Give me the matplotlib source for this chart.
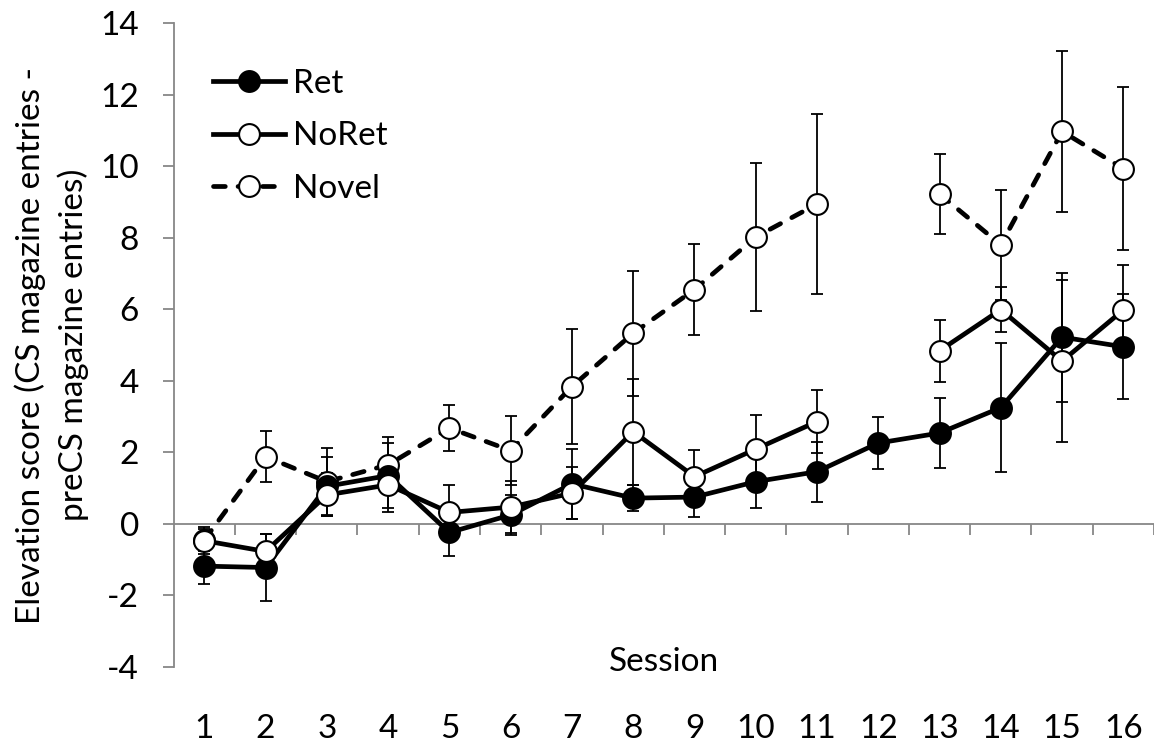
import numpy as np
import matplotlib.pyplot as plt
from matplotlib.lines import Line2D
from matplotlib.ticker import MultipleLocator

plt.rcParams['font.family'] = ['Lato', 'DejaVu Sans']
plt.rcParams['axes.unicode_minus'] = False

# Session numbers and tick labels.
sessions = [1, 2, 3, 4, 5, 6, 7, 8, 9, 10, 11, 12, 13, 14, 15, 16]
session_labels = ['1', '2', '3', '4', '5', '6', '7', '8', '9', '10', '11', '12', '13', '14', '15', '16']

# Group means and error (SEM). Session 12 missing for NoRet / Novel.
ret_mean = [-1.18, -1.22, 1.05, 1.35, -0.24, 0.25, 1.12, 0.72, 0.75, 1.18, 1.46, 2.26, 2.54, 3.25, 5.22, 4.95]
ret_err = [0.50, 0.93, 0.82, 0.91, 0.66, 0.56, 0.97, 0.37, 0.57, 0.74, 0.84, 0.72, 0.98, 1.80, 1.80, 1.47]

noret_mean = [-0.47, -0.77, 0.81, 1.09, 0.32, 0.47, 0.86, 2.58, 1.32, 2.09, 2.86, np.nan, 4.84, 5.99, 4.55, 5.98]
noret_err = [0.38, 0.50, 0.60, 0.76, 0.76, 0.73, 0.73, 1.48, 0.75, 0.96, 0.89, np.nan, 0.86, 0.62, 2.26, 1.25]

novel_mean = [-0.45, 1.88, 1.18, 1.65, 2.68, 2.05, 3.84, 5.33, 6.55, 8.02, 8.94, np.nan, 9.22, 7.80, 10.97, 9.93]
novel_err = [0.30, 0.71, 0.94, 0.78, 0.63, 0.97, 1.61, 1.75, 1.27, 2.08, 2.52, np.nan, 1.13, 1.54, 2.25, 2.27]

grey = '#878787'
fs = 24
lw = 3.4
ms = 15

fig = plt.figure(figsize=(11.54, 7.45), dpi=100)
ax = fig.add_axes([0.1505, 0.1047, 0.8495, 0.8644])

# Error bars first, markers go on top.
for mean, err in [(novel_mean, novel_err), (ret_mean, ret_err), (noret_mean, noret_err)]:
    ax.errorbar(sessions, mean, yerr=err, fmt='none', ecolor='black',
                elinewidth=1.3, capsize=4.3, capthick=1.3, zorder=2)

novel_style = dict(color='black', lw=lw, ls=(0, (2.5, 2.7)), dash_capstyle='round',
                   marker='o', ms=ms, mfc='white', mec='black', mew=1.5)
ret_style = dict(color='black', lw=lw, marker='o', ms=ms, mfc='black', mec='black', mew=1.5)
noret_style = dict(color='black', lw=lw, marker='o', ms=ms, mfc='white', mec='black', mew=1.5)

ax.plot(sessions, novel_mean, zorder=3, **novel_style)
ax.plot(sessions, ret_mean, zorder=4, **ret_style)
ax.plot(sessions, noret_mean, zorder=5, **noret_style)

# Axes: category axis crossing at 0, labels at the bottom.
ax.set_xlim(0.5, 16.5)
ax.set_ylim(-4, 14)
ax.spines['top'].set_visible(False)
ax.spines['right'].set_visible(False)
ax.spines['bottom'].set_position(('data', 0))
for side in ['bottom', 'left']:
    ax.spines[side].set_color(grey)
    ax.spines[side].set_linewidth(1.3)

ax.set_xticks(np.arange(1.5, 17, 1))
ax.set_xticklabels([])
ax.tick_params(axis='x', direction='out', length=8, width=1.3, color=grey)

ax.yaxis.set_major_locator(MultipleLocator(2))
ax.tick_params(axis='y', direction='out', length=8, width=1.3, color=grey,
               labelsize=fs, pad=17)

sec = ax.secondary_xaxis(0.0)
sec.set_xticks(sessions)
sec.set_xticklabels(session_labels)
sec.spines['bottom'].set_visible(False)
sec.tick_params(length=0, pad=34, labelsize=fs)

ax.set_xlabel('Session', fontsize=fs)
ax.xaxis.label.set_va('baseline')
ax.xaxis.set_label_coords(0.5, -0.006)

ax.set_ylabel('Elevation score (CS magazine entries -\npreCS magazine entries)',
              fontsize=fs, linespacing=1.45)
ax.yaxis.label.set_va('center')
ax.yaxis.set_label_coords(-0.124, 0.5)

handles = [Line2D([], [], **ret_style), Line2D([], [], **noret_style), Line2D([], [], **novel_style)]
ax.legend(handles, ['Ret', 'NoRet', 'Novel'], loc='upper left', bbox_to_anchor=(0.04, 0.929),
          frameon=False, fontsize=fs, handlelength=2.16, handletextpad=0.24,
          labelspacing=0.68, borderaxespad=0, borderpad=0)

plt.savefig('out.png', dpi=100)
